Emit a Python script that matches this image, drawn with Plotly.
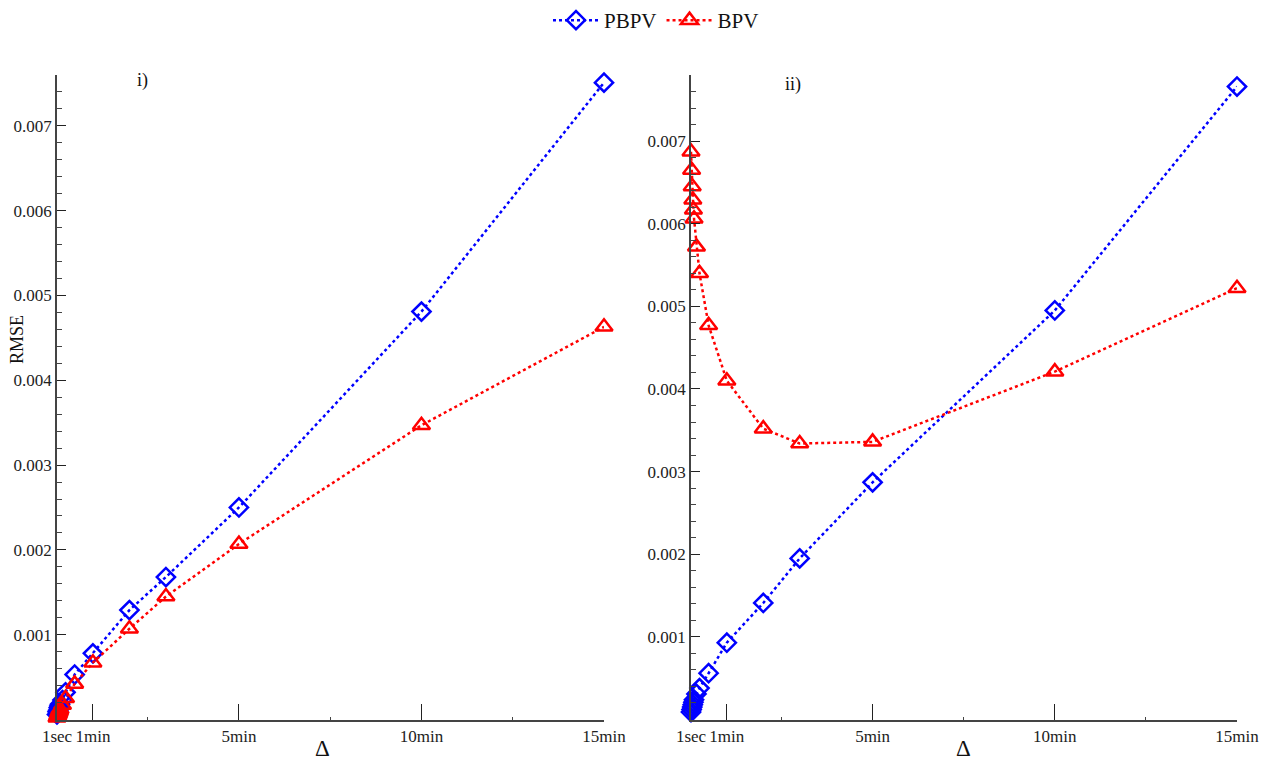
import plotly.graph_objects as go

# Sampling intervals in seconds
delta_sec = [1, 2, 3, 4, 5, 6, 10, 15, 30, 60, 120, 180, 300, 600, 900]
tick_vals = [1, 60, 300, 600, 900]
tick_text = ["1sec", "1min", "5min", "10min", "15min"]

# Panel i)
pbpv_i = [0.00006, 0.00009, 0.00011, 0.00014, 0.00016, 0.00018, 0.00023, 0.00032,
          0.00053, 0.00078, 0.00129, 0.00168, 0.00250, 0.00481, 0.00751]
bpv_i = [0.00002, 0.00004, 0.00006, 0.00008, 0.00010, 0.00012, 0.00017, 0.00025,
         0.00042, 0.00067, 0.00107, 0.00145, 0.00207, 0.00347, 0.00463]

# Panel ii)
pbpv_ii = [0.00009, 0.00012, 0.00015, 0.00018, 0.00021, 0.00024, 0.00031, 0.00038,
           0.00056, 0.00093, 0.00141, 0.00195, 0.00287, 0.00495, 0.00766]
bpv_ii = [0.00687, 0.00665, 0.00645, 0.00629, 0.00617, 0.00606, 0.00572, 0.00540,
          0.00477, 0.00410, 0.00352, 0.00334, 0.00336, 0.00421, 0.00522]

BLUE = "#0000ff"
RED = "#ff0000"
FONT = "Liberation Serif"

def pb(x, y, xa, ya, show):
    return go.Scatter(x=x, y=y, xaxis=xa, yaxis=ya, name="PBPV", showlegend=show,
                      mode="lines+markers", cliponaxis=False,
                      line=dict(color=BLUE, width=2.5, dash="dot"),
                      marker=dict(symbol="diamond-open", size=14, color=BLUE,
                                  line=dict(color=BLUE, width=2.5)))

def bp(x, y, xa, ya, show):
    return go.Scatter(x=x, y=y, xaxis=xa, yaxis=ya, name="BPV", showlegend=show,
                      mode="lines+markers", cliponaxis=False,
                      line=dict(color=RED, width=2.5, dash="dot"),
                      marker=dict(symbol="triangle-up-open", size=15, color=RED,
                                  line=dict(color=RED, width=2.5)))

fig = go.Figure()
fig.add_trace(pb(delta_sec, pbpv_i, "x", "y", True))
fig.add_trace(bp(delta_sec, bpv_i, "x", "y", True))
fig.add_trace(pb(delta_sec, pbpv_ii, "x2", "y2", False))
fig.add_trace(bp(delta_sec, bpv_ii, "x2", "y2", False))

W, H = 1276, 762
ydom = [(H - 719.5) / H, (H - 75) / H]

def xaxis(dom, anchor):
    return dict(domain=dom, anchor=anchor, range=[1, 900], automargin=False,
                tickmode="array", tickvals=tick_vals, ticktext=tick_text,
                ticks="inside", ticklen=16, tickwidth=1.2, tickcolor="#222",
                showline=True, linecolor="#444", linewidth=1.5,
                showgrid=False, zeroline=False,
                tickfont=dict(family=FONT, size=17, color="#222"),
                minor=dict(tickmode="array", tickvals=[150, 450, 750],
                           ticks="inside", ticklen=3, tickcolor="#444"))

def yaxis(top, anchor):
    return dict(domain=ydom, anchor=anchor, range=[0, top], automargin=False,
                tickmode="array",
                tickvals=[0.001, 0.002, 0.003, 0.004, 0.005, 0.006, 0.007],
                ticktext=["0.001", "0.002", "0.003", "0.004", "0.005", "0.006", "0.007"],
                ticks="inside", ticklen=9, tickwidth=1.2, tickcolor="#222",
                showline=True, linecolor="#444", linewidth=1.5,
                showgrid=False, zeroline=False,
                tickfont=dict(family=FONT, size=17, color="#222"),
                minor=dict(tickmode="linear", tick0=0, dtick=0.0002,
                           ticks="inside", ticklen=5, tickcolor="#444"))

def label(text, x, y, size, angle=0):
    return dict(text=text, x=x / W, y=(H - y) / H, xref="paper", yref="paper",
                xanchor="center", yanchor="middle", showarrow=False,
                textangle=angle, font=dict(family=FONT, size=size, color="#111"))

fig.update_layout(
    width=W, height=H,
    margin=dict(l=0, r=0, t=0, b=0, autoexpand=False),
    paper_bgcolor="white", plot_bgcolor="white",
    xaxis=xaxis([57 / W, 604 / W], "y"),
    yaxis=yaxis(0.0076, "x"),
    xaxis2=xaxis([691 / W, 1237 / W], "y2"),
    yaxis2=yaxis(0.0078, "x2"),
    legend=dict(orientation="h", x=656 / W, xanchor="center", y=1.0, yanchor="top",
                font=dict(family=FONT, size=21, color="#111"),
                itemwidth=46, bgcolor="rgba(0,0,0,0)"),
    annotations=[
        label("Δ", 322, 748, 23),
        label("Δ", 963, 748, 23),
        label("RMSE", 17, 340, 18, -90),
        label("i)", 142, 80, 18),
        label("ii)", 793, 85, 18),
    ],
)

fig.write_html("out.html")
